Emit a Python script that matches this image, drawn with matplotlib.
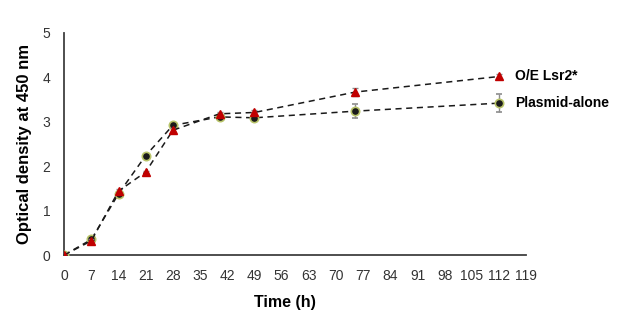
import matplotlib
matplotlib.use("Agg")
import matplotlib.pyplot as plt

time_h = [0, 7, 14, 21, 28, 40, 49, 75, 112]
lsr2 = [0.0, 0.32, 1.44, 1.87, 2.81, 3.18, 3.21, 3.67, 4.02]
lsr2_err = [0.02, 0.03, 0.05, 0.03, 0.04, 0.04, 0.05, 0.09, 0.06]
plasmid = [0.0, 0.35, 1.38, 2.24, 2.92, 3.11, 3.09, 3.24, 3.42]
plasmid_err = [0.02, 0.03, 0.04, 0.03, 0.04, 0.04, 0.04, 0.16, 0.21]
xticks = list(range(0, 120, 7))
yticks = [0, 1, 2, 3, 4, 5]

plt.rcParams['font.family'] = ['Liberation Sans', 'DejaVu Sans']

fig = plt.figure(figsize=(6.17, 3.2), dpi=100)
ax = fig.add_axes([0.104, 0.203, 0.749, 0.694])

ax.errorbar(time_h, plasmid, yerr=plasmid_err, fmt='o', linestyle='--', color='#1a1a1a',
            mfc='#1a1a1a', mec='#b9c46a', mew=1.2, ms=6, lw=1.1, ecolor='#8c8c8c',
            elinewidth=1, capsize=2.5, dashes=(4, 3), zorder=3)
ax.errorbar(time_h, lsr2, yerr=lsr2_err, fmt='^', linestyle='--', color='#1a1a1a',
            mfc='#c00000', mec='#c00000', ms=6, lw=1.1, ecolor='#8c8c8c',
            elinewidth=1, capsize=2.5, dashes=(4, 3), zorder=4)

ax.text(116, lsr2[-1], 'O/E Lsr2*', fontsize=10, fontweight='bold', va='center', ha='left')
ax.text(116, plasmid[-1], 'Plasmid-alone', fontsize=10, fontweight='bold', va='center', ha='left')

ax.set_xlim(0, 119)
ax.set_ylim(0, 5)
ax.set_xticks(xticks)
ax.set_yticks(yticks)
ax.tick_params(length=0, labelsize=10, colors='#333333')
ax.tick_params(axis='x', pad=10)
ax.tick_params(axis='y', pad=10)
for s in ['top', 'right']:
    ax.spines[s].set_visible(False)
for s in ['left', 'bottom']:
    ax.spines[s].set_color('#404040')
    ax.spines[s].set_linewidth(1.3)

ax.set_xlabel('Time (h)', fontsize=11.5, fontweight='bold')
ax.set_ylabel('Optical density at 450 nm', fontsize=12, fontweight='bold')
ax.xaxis.set_label_coords(0.478, -0.18)
ax.yaxis.set_label_coords(-0.07, 0.5)

fig.savefig('out.png', dpi=100)
